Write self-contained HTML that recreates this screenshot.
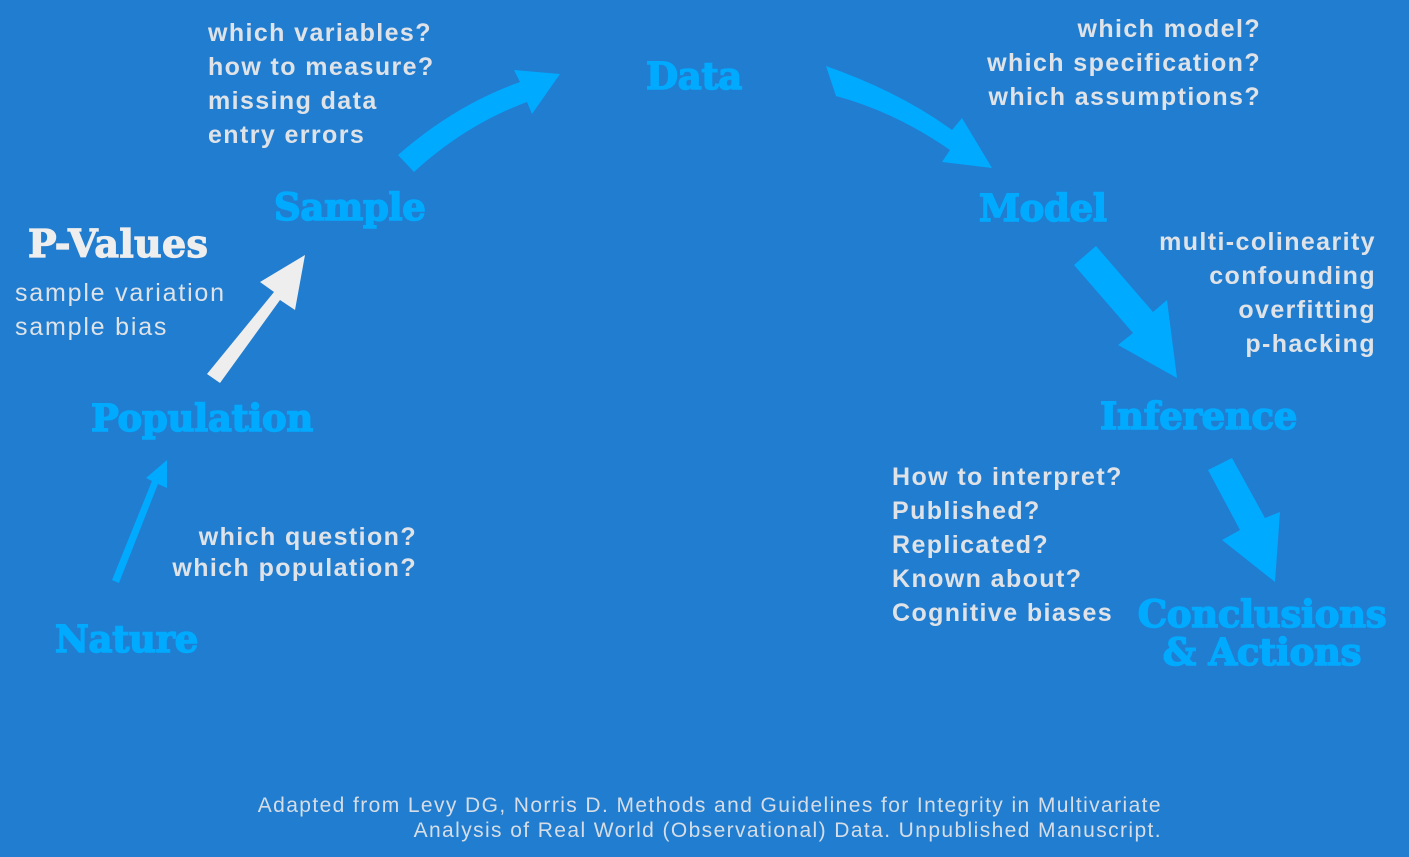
<!DOCTYPE html>
<html><head><meta charset="utf-8"><style>
html,body{margin:0;padding:0;background:#207dd0;}
svg{display:block}
.g{font-family:"Liberation Sans",sans-serif;font-weight:bold;font-size:25px;fill:#dfe3e8;letter-spacing:1.4px}
.r{font-family:"Liberation Sans",sans-serif;font-size:25px;fill:#dfe3e8;letter-spacing:1.8px}
.l{font-family:"DejaVu Serif","Liberation Serif",serif;font-weight:900;font-size:37px;fill:#00aaff;stroke:#00aaff;stroke-width:1.5px;letter-spacing:-0.3px}
.f{font-family:"Liberation Sans",sans-serif;font-size:21px;fill:#d6dde6;letter-spacing:1.4px}
</style></head><body>
<svg width="1409" height="857" viewBox="0 0 1409 857" xmlns="http://www.w3.org/2000/svg">
<rect width="1409" height="857" fill="#207dd0"/>
<g fill="#00aaff" stroke="none">
<polygon points="112,580 119,583 158,484 167,488 167,460 146,478 152,481"/>
<path d="M398,155 Q455,105 520,82 L514,70 L560,74 L532,114 L527,102 Q465,125 414,172 Z"/>
<path d="M826,66 Q900,92 952,130 L962,118 L992,168 L942,162 L950,150 Q895,112 836,96 Z"/>
<polygon points="1074,265 1096,246 1153,312 1167,300 1177,378 1118,345 1133,333"/>
<polygon points="1208,470 1232,458 1265,518 1280,512 1275,582 1222,540 1240,530"/>
</g>
<polygon fill="#eeeeee" points="207,374 220,383 280,300 295,310 305,255 260,282 274,292"/>
<text class="g" x="208" y="41">which variables?</text>
<text class="g" x="208" y="75">how to measure?</text>
<text class="g" x="208" y="109">missing data</text>
<text class="g" x="208" y="143">entry errors</text>
<text class="g" x="1261" y="37" text-anchor="end">which model?</text>
<text class="g" x="1261" y="71" text-anchor="end">which specification?</text>
<text class="g" x="1261" y="105" text-anchor="end">which assumptions?</text>
<text class="g" x="1376" y="250" text-anchor="end">multi-colinearity</text>
<text class="g" x="1376" y="284" text-anchor="end">confounding</text>
<text class="g" x="1376" y="318" text-anchor="end">overfitting</text>
<text class="g" x="1376" y="352" text-anchor="end">p-hacking</text>
<text class="g" x="892" y="485">How to interpret?</text>
<text class="g" x="892" y="519">Published?</text>
<text class="g" x="892" y="553">Replicated?</text>
<text class="g" x="892" y="587">Known about?</text>
<text class="g" x="892" y="621">Cognitive biases</text>
<text class="g" x="417" y="545" text-anchor="end">which question?</text>
<text class="g" x="417" y="576" text-anchor="end">which population?</text>
<text class="r" x="15" y="301">sample variation</text>
<text class="r" x="15" y="335">sample bias</text>
<text x="28" y="257" style="font-family:'DejaVu Serif','Liberation Serif',serif;font-weight:900;font-size:38px;fill:#eeeeee;stroke:#eeeeee;stroke-width:1.2px;letter-spacing:0.3px">P-Values</text>
<text class="l" x="646" y="89">Data</text>
<text class="l" x="274" y="220">Sample</text>
<text class="l" x="979" y="221">Model</text>
<text class="l" x="91" y="431">Population</text>
<text class="l" x="1100" y="429">Inference</text>
<text class="l" x="55" y="652">Nature</text>
<text class="l" x="1262" y="627" text-anchor="middle">Conclusions</text>
<text class="l" x="1262" y="665" text-anchor="middle">&amp; Actions</text>
<text class="f" x="1162" y="812" text-anchor="end">Adapted from Levy DG, Norris D. Methods and Guidelines for Integrity in Multivariate</text>
<text class="f" x="1162" y="837" text-anchor="end">Analysis of Real World (Observational) Data. Unpublished Manuscript.</text>
</svg>
</body></html>
